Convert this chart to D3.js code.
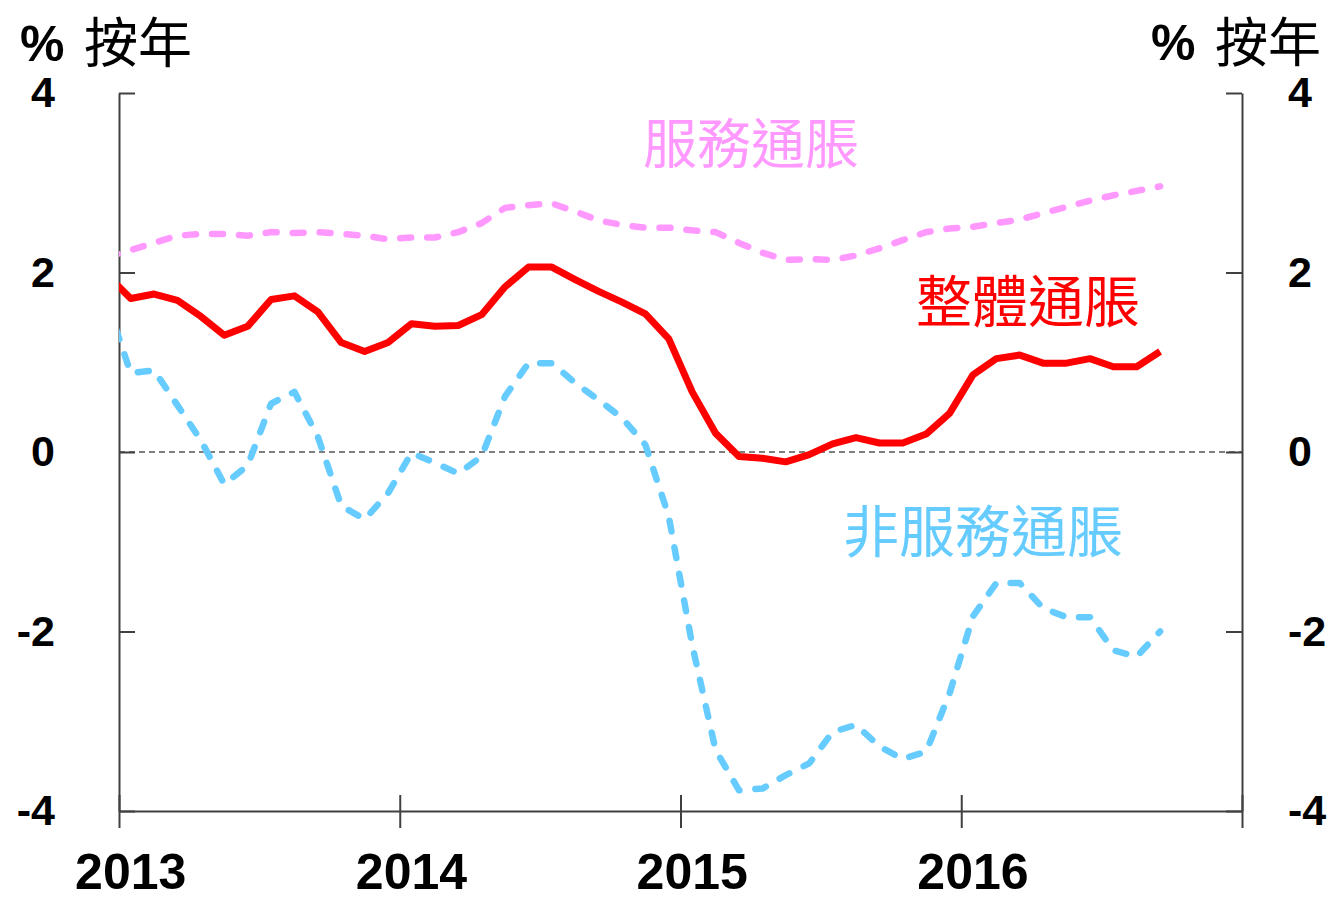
<!DOCTYPE html>
<html>
<head>
<meta charset="utf-8">
<script src="https://cdn.jsdelivr.net/npm/d3@7"></script>
<style>
  body { margin: 0; background: #fff; }
  .tick text { font-family: "Liberation Sans", Arial, sans-serif; font-weight: bold; }
</style>
</head>
<body>
<svg id="chart" width="1336" height="899"></svg>
<script>
// monthly data, Dec 2012 .. Sep 2016 (first value sits left of the axis and gets clipped)
const startMonth = -1; // Dec 2012, months counted from Jan 2013
const headline = [1.97,
  1.71, 1.76, 1.69, 1.51, 1.30, 1.40, 1.70, 1.74, 1.56, 1.22, 1.12, 1.22,
  1.43, 1.40, 1.41, 1.53, 1.84, 2.06, 2.06, 1.92, 1.79, 1.67, 1.54, 1.26,
  0.67, 0.21, -0.05, -0.07, -0.11, -0.03, 0.09, 0.16, 0.10, 0.10, 0.20, 0.43,
  0.86, 1.04, 1.08, 0.99, 0.99, 1.04, 0.95, 0.95, 1.12];
const services = [2.17,
  2.25, 2.33, 2.41, 2.43, 2.43, 2.41, 2.45, 2.44, 2.45, 2.43, 2.41, 2.37,
  2.39, 2.39, 2.45, 2.55, 2.72, 2.75, 2.77, 2.68, 2.58, 2.53, 2.50, 2.50,
  2.47, 2.45, 2.33, 2.22, 2.14, 2.15, 2.14, 2.19, 2.27, 2.36, 2.45, 2.49,
  2.51, 2.55, 2.59, 2.66, 2.73, 2.80, 2.86, 2.91, 2.96];
const nonServices = [1.66,
  0.88, 0.91, 0.52, 0.13, -0.36, -0.15, 0.54, 0.67, 0.17, -0.60, -0.75, -0.46,
  -0.01, -0.12, -0.24, -0.05, 0.62, 0.99, 0.99, 0.77, 0.58, 0.38, 0.08, -0.72,
  -2.15, -3.32, -3.77, -3.75, -3.60, -3.47, -3.12, -3.04, -3.28, -3.42, -3.34, -2.69,
  -1.83, -1.46, -1.46, -1.74, -1.84, -1.84, -2.21, -2.28, -2.00];

const years = ["2013", "2014", "2015", "2016"];
const yTicks = [-4, -2, 0, 2, 4];

const svg = d3.select("#chart");
const plotLeft = 119, plotRight = 1242, plotTop = 93, plotBottom = 811;

const x = d3.scaleLinear().domain([0, 48]).range([plotLeft, plotRight]);
const y = d3.scaleLinear().domain([-4, 4]).range([plotBottom, plotTop]);

svg.append("defs").append("clipPath").attr("id", "plot")
  .append("rect").attr("x", plotLeft).attr("y", 0).attr("width", plotRight - plotLeft).attr("height", 899);

// zero line
svg.append("line")
  .attr("x1", plotLeft).attr("x2", plotRight)
  .attr("y1", y(0)).attr("y2", y(0))
  .attr("stroke", "#555").attr("stroke-width", 1.5)
  .attr("stroke-dasharray", "6,4");

// axes
const axisColor = "#404040";
const plainNum = d => String(d); // keep the ascii hyphen like the original
const yLeft = svg.append("g").attr("transform", `translate(${plotLeft},0)`)
  .call(d3.axisLeft(y).tickValues(yTicks).tickSize(-16).tickSizeOuter(0).tickPadding(64).tickFormat(plainNum));
const yRight = svg.append("g").attr("transform", `translate(${plotRight},0)`)
  .call(d3.axisRight(y).tickValues(yTicks).tickSize(-16).tickSizeOuter(0).tickPadding(46).tickFormat(plainNum));
const xAxis = svg.append("g").attr("transform", `translate(0,${plotBottom})`)
  .call(d3.axisBottom(x).tickValues([0, 12, 24, 36, 48]).tickSize(17).tickSizeOuter(0).tickFormat(""));
xAxis.selectAll(".tick line").attr("y1", -16);

[yLeft, yRight, xAxis].forEach(g => {
  g.select(".domain").attr("stroke", axisColor).attr("stroke-width", 2);
  g.selectAll(".tick line").attr("stroke", axisColor).attr("stroke-width", 2);
  g.selectAll(".tick text").attr("fill", "#000").attr("font-size", 43);
});

svg.selectAll(".year")
  .data(years)
  .enter()
  .append("text")
  .attr("class", "year")
  .attr("x", (d, i) => x(i * 12 + 0.5))
  .attr("y", 889)
  .attr("text-anchor", "middle")
  .attr("font-family", "Liberation Sans, Arial, sans-serif")
  .attr("font-weight", "bold")
  .attr("font-size", 50)
  .text(d => d);

// lines
const line = d3.line()
  .x((d, i) => x(startMonth + i + 0.5))
  .y(d => y(d));

const plot = svg.append("g").attr("clip-path", "url(#plot)");

plot.append("path").datum(services)
  .attr("d", line).attr("fill", "none")
  .attr("stroke", "#FF99FF").attr("stroke-width", 6.5)
  .attr("stroke-linecap", "round").attr("stroke-linejoin", "round")
  .attr("stroke-dasharray", "11,16");

plot.append("path").datum(nonServices)
  .attr("d", line).attr("fill", "none")
  .attr("stroke", "#66CCFF").attr("stroke-width", 6.5)
  .attr("stroke-linecap", "round").attr("stroke-linejoin", "round")
  .attr("stroke-dasharray", "11,16");

plot.append("path").datum(headline)
  .attr("d", line).attr("fill", "none")
  .attr("stroke", "#FF0000").attr("stroke-width", 7)
  .attr("stroke-linejoin", "round");

// labels
const cjk = "Noto Sans CJK TC, Noto Sans CJK SC, sans-serif";
function label(txt, xp, yp, color, size) {
  svg.append("text")
    .attr("x", xp).attr("y", yp)
    .attr("font-family", cjk).attr("font-size", size)
    .attr("fill", color)
    .text(txt);
}
label("服務通脹", 643, 164, "#FF99FF", 54);
label("整體通脹", 916, 322, "#FF0000", 56);
label("非服務通脹", 843, 552, "#66CCFF", 56);

// unit headers
function unit(xp, xc, yb, size) {
  svg.append("text")
    .attr("x", xp).attr("y", yb - 2)
    .attr("font-family", "Liberation Sans, Arial, sans-serif")
    .attr("font-weight", "bold").attr("font-size", 50)
    .text("%");
  label("按年", xc, yb, "#000", size);
}
unit(20, 84, 63, 54);
unit(1151, 1215, 62, 53);
</script>
</body>
</html>
